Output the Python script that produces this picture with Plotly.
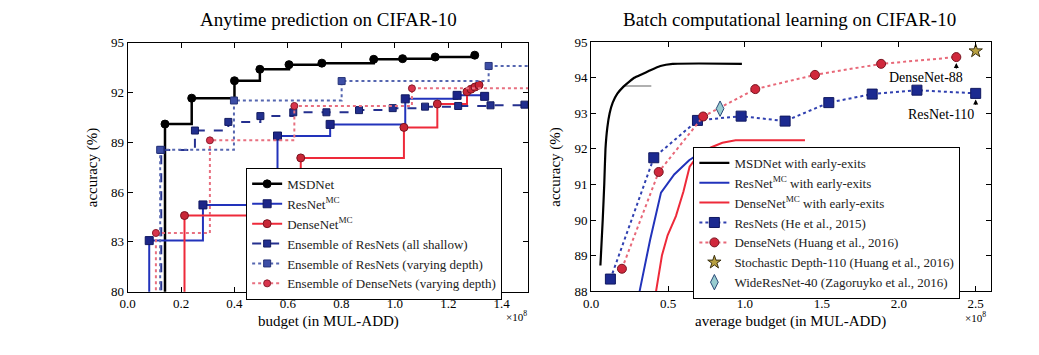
import plotly.graph_objects as go

# ---------------- Left panel data (budget in 1e8 MUL-ADD, accuracy %) ----------------
msd_x = [0.14, 0.24, 0.40, 0.495, 0.604, 0.727, 0.921, 1.029, 1.151, 1.299]
msd_y = [90.10, 91.66, 92.71, 93.40, 93.68, 93.77, 94.00, 94.04, 94.14, 94.25]

resmc_x = [0.081, 0.282, 0.561, 0.758, 1.039, 1.233, 1.336]
resmc_y = [83.08, 85.23, 89.38, 90.08, 91.62, 91.83, 91.77]

densemc_x = [0.213, 0.648, 1.034, 1.159, 1.27, 1.285, 1.30, 1.315]
densemc_y = [84.59, 88.06, 89.90, 91.31, 92.05, 92.20, 92.33, 92.45]

ens_shallow_x = [0.126, 0.252, 0.377, 0.497, 0.620, 0.744, 0.866, 0.992, 1.113, 1.237, 1.358, 1.485]
ens_shallow_y = [88.54, 89.71, 90.23, 90.58, 90.81, 90.81, 90.94, 91.06, 91.15, 91.19, 91.23, 91.27]

ens_resvar_x = [0.122, 0.398, 0.801, 1.351]
ens_resvar_y = [88.55, 91.52, 92.69, 93.60]

ens_densevar_x = [0.106, 0.308, 0.624, 1.064]
ens_densevar_y = [83.54, 89.12, 91.19, 92.25]

# ---------------- Right panel data ----------------
msd_ee_x = [0.060, 0.075, 0.085, 0.093, 0.105, 0.12, 0.14, 0.17, 0.21, 0.25, 0.28, 0.33, 0.38, 0.45, 0.53, 0.70, 0.98]
msd_ee_y = [88.72, 90.00, 91.00, 92.00, 92.60, 93.00, 93.30, 93.55, 93.75, 93.90, 94.00, 94.10, 94.20, 94.33, 94.39, 94.40, 94.39]

resmc_ee_x = [0.315, 0.383, 0.454, 0.540, 0.637, 0.700, 0.800, 0.950]
resmc_ee_y = [88.00, 89.44, 90.77, 91.28, 91.68, 91.86, 91.95, 92.00]

densemc_ee_x = [0.422, 0.460, 0.497, 0.551, 0.600, 0.640, 0.700, 0.778, 0.853, 0.939, 1.090, 1.390]
densemc_ee_y = [88.00, 89.00, 89.57, 90.11, 90.80, 91.50, 91.85, 92.04, 92.17, 92.24, 92.24, 92.24]

resnets_x = [0.125, 0.407, 0.691, 0.975, 1.261, 1.545, 1.827, 2.118, 2.500]
resnets_y = [88.34, 91.75, 92.80, 92.92, 92.78, 93.30, 93.54, 93.65, 93.56]

densenets_x = [0.200, 0.439, 0.728, 1.067, 1.455, 1.885, 2.374]
densenets_y = [88.63, 91.35, 92.91, 93.68, 94.08, 94.39, 94.58]

stoch_x = [2.50]
stoch_y = [94.75]

wide_x = [0.838]
wide_y = [93.13]

gray_ref_x = [0.219, 0.391]
gray_ref_y = [93.77, 93.77]

# tick labels / axis settings
left_xticks = [0.0, 0.2, 0.4, 0.6, 0.8, 1.0, 1.2, 1.4]
left_yticks = [80, 83, 86, 89, 92, 95]
right_xticks = [0.0, 0.5, 1.0, 1.5, 2.0, 2.5]
right_yticks = [88, 89, 90, 91, 92, 93, 94, 95]
LX_RANGE = [0, 1.5]
LY_RANGE = [80, 95]
RX_RANGE = [0, 2.6]
RY_RANGE = [88, 95]

FONT = "Liberation Serif"
W, H = 1039, 355

fig = go.Figure()


def step_series(xs, ys, name, color, dash, width, msym, msize, mcolor, mline, legend,
                drop=True, extend=False):
    if drop:
        fig.add_trace(go.Scatter(x=[xs[0], xs[0]], y=[LY_RANGE[0] - 1, ys[0]], mode="lines",
                                 line=dict(color=color, width=width, dash=dash),
                                 showlegend=False, hoverinfo="skip", xaxis="x", yaxis="y"))
    if extend:
        fig.add_trace(go.Scatter(x=[xs[-1], LX_RANGE[1] + 0.1], y=[ys[-1], ys[-1]], mode="lines",
                                 line=dict(color=color, width=width, dash=dash),
                                 showlegend=False, hoverinfo="skip", xaxis="x", yaxis="y"))
    fig.add_trace(go.Scatter(x=xs, y=ys, name=name, mode="lines+markers",
                             line=dict(color=color, width=width, dash=dash, shape="hv"),
                             marker=dict(symbol=msym, size=msize, color=mcolor,
                                         line=dict(color=mline, width=1)),
                             legend=legend, xaxis="x", yaxis="y"))


# Left panel (order so that legend matches)
step_series(msd_x, msd_y, "MSDNet", "black", "solid", 2.5, "circle", 8, "black", "black", "legend")
step_series(resmc_x, resmc_y, "ResNet<sup>MC</sup>", "#2233bb", "solid", 2, "square", 8, "#1c2588", "#101860", "legend")
step_series(densemc_x, densemc_y, "DenseNet<sup>MC</sup>", "#ee2a3a", "solid", 2, "circle", 8, "#c82636", "#7a1420", "legend")
step_series(ens_shallow_x, ens_shallow_y, "Ensemble of ResNets (all shallow)", "#25308f", "dash", 2, "square", 7, "#22308f", "#141c60", "legend", extend=True)
step_series(ens_resvar_x, ens_resvar_y, "Ensemble of ResNets (varying depth)", "#5566b0", "dot", 2, "square", 7, "#3d4ea6", "#263378", "legend", extend=True)
step_series(ens_densevar_x, ens_densevar_y, "Ensemble of DenseNets (varying depth)", "#e87080", "dot", 2, "circle", 7, "#d8344c", "#8a1c2c", "legend", extend=True)

# Right panel
fig.add_trace(go.Scatter(x=gray_ref_x, y=gray_ref_y, mode="lines", line=dict(color="#b0b0b0", width=2),
                         showlegend=False, hoverinfo="skip", xaxis="x2", yaxis="y2"))
fig.add_trace(go.Scatter(x=msd_ee_x, y=msd_ee_y, name="MSDNet with early-exits", mode="lines",
                         line=dict(color="black", width=2.2, shape="spline", smoothing=0.4),
                         legend="legend2", xaxis="x2", yaxis="y2"))
fig.add_trace(go.Scatter(x=resmc_ee_x, y=resmc_ee_y, name="ResNet<sup>MC</sup> with early-exits", mode="lines",
                         line=dict(color="#2233bb", width=2),
                         legend="legend2", xaxis="x2", yaxis="y2"))
fig.add_trace(go.Scatter(x=densemc_ee_x, y=densemc_ee_y, name="DenseNet<sup>MC</sup> with early-exits", mode="lines",
                         line=dict(color="#ee2a3a", width=2),
                         legend="legend2", xaxis="x2", yaxis="y2"))
fig.add_trace(go.Scatter(x=resnets_x, y=resnets_y, name="ResNets (He et al., 2015)", mode="lines+markers",
                         line=dict(color="#3040b0", width=2, dash="dot"),
                         marker=dict(symbol="square", size=10, color="#1c2a90", line=dict(color="#101860", width=1)),
                         legend="legend2", xaxis="x2", yaxis="y2"))
fig.add_trace(go.Scatter(x=densenets_x, y=densenets_y, name="DenseNets (Huang et al., 2016)", mode="lines+markers",
                         line=dict(color="#e86878", width=2, dash="dot"),
                         marker=dict(symbol="circle", size=9, color="#d0283c", line=dict(color="#7a1420", width=1)),
                         legend="legend2", xaxis="x2", yaxis="y2"))
fig.add_trace(go.Scatter(x=stoch_x, y=stoch_y, name="Stochastic Depth-110 (Huang et al., 2016)", mode="markers",
                         marker=dict(symbol="star", size=10, color="#b8a040", line=dict(color="#3a3010", width=1)),
                         legend="legend2", xaxis="x2", yaxis="y2"))
fig.add_trace(go.Scatter(x=wide_x, y=wide_y, name="WideResNet-40 (Zagoruyko et al., 2016)", mode="markers",
                         marker=dict(symbol="diamond-tall", size=11, color="#98ccd0", line=dict(color="#2a4a78", width=1)),
                         legend="legend2", xaxis="x2", yaxis="y2"))

axis_common = dict(showline=True, linecolor="black", linewidth=1, mirror="ticks", ticks="inside",
                   ticklen=5, tickcolor="black", showgrid=False, zeroline=False,
                   tickfont=dict(family=FONT, size=13, color="black"))

fig.update_layout(
    width=W, height=H, margin=dict(l=0, r=0, t=0, b=0),
    paper_bgcolor="white", plot_bgcolor="white",
    font=dict(family=FONT, color="black"),
    xaxis=dict(domain=[120.5 / W, 524.5 / W], range=LX_RANGE, tickvals=left_xticks,
               ticktext=[f"{v:.1f}" for v in left_xticks], anchor="y", **axis_common),
    yaxis=dict(domain=[1 - 297.3 / H, 1 - 37.3 / H], range=LY_RANGE, tickvals=left_yticks, anchor="x",
               **axis_common),
    xaxis2=dict(domain=[587.7 / W, 990.7 / W], range=RX_RANGE, tickvals=right_xticks,
                ticktext=[f"{v:.1f}" for v in right_xticks], anchor="y2", **axis_common),
    yaxis2=dict(domain=[1 - 296.7 / H, 1 - 36.7 / H], range=RY_RANGE, tickvals=right_yticks, anchor="x2",
                **axis_common),
    legend=dict(x=240 / W, y=1 - 168 / H, xanchor="left", yanchor="top", bgcolor="white",
                bordercolor="black", borderwidth=1, font=dict(family=FONT, size=13, color="#222"),
                tracegroupgap=0, itemwidth=30),
    legend2=dict(x=690.7 / W, y=1 - 146 / H, xanchor="left", yanchor="top", bgcolor="white",
                 bordercolor="black", borderwidth=1, font=dict(family=FONT, size=13, color="#222"),
                 tracegroupgap=0, itemwidth=30),
    showlegend=True,
)

ann = []
# titles
ann.append(dict(text="Anytime prediction on CIFAR-10", x=323 / W, y=1 - 13 / H, xref="paper", yref="paper",
                showarrow=False, font=dict(family=FONT, size=19), xanchor="center", yanchor="middle"))
ann.append(dict(text="Batch computational learning on CIFAR-10", x=788 / W, y=1 - 13 / H, xref="paper", yref="paper",
                showarrow=False, font=dict(family=FONT, size=19), xanchor="center", yanchor="middle"))
# axis titles
ann.append(dict(text="budget (in MUL-ADD)", x=323 / W, y=1 - 328 / H, xref="paper", yref="paper",
                showarrow=False, font=dict(family=FONT, size=15), xanchor="center", yanchor="middle"))
ann.append(dict(text="average budget (in MUL-ADD)", x=789 / W, y=1 - 328 / H, xref="paper", yref="paper",
                showarrow=False, font=dict(family=FONT, size=15), xanchor="center", yanchor="middle"))
ann.append(dict(text="accuracy (%)", x=86 / W, y=1 - 167 / H, xref="paper", yref="paper", textangle=-90,
                showarrow=False, font=dict(family=FONT, size=15), xanchor="center", yanchor="middle"))
ann.append(dict(text="accuracy (%)", x=552 / W, y=1 - 167 / H, xref="paper", yref="paper", textangle=-90,
                showarrow=False, font=dict(family=FONT, size=15), xanchor="center", yanchor="middle"))
# exponent labels
ann.append(dict(text="×10<sup>8</sup>", x=512 / W, y=1 - 323 / H, xref="paper", yref="paper",
                showarrow=False, font=dict(family=FONT, size=11), xanchor="center", yanchor="middle"))
ann.append(dict(text="×10<sup>8</sup>", x=975 / W, y=1 - 324 / H, xref="paper", yref="paper",
                showarrow=False, font=dict(family=FONT, size=11), xanchor="center", yanchor="middle"))
# point labels
ann.append(dict(text="DenseNet-88", x=2.177, y=94.01, xref="x2", yref="y2", showarrow=False,
                font=dict(family=FONT, size=14), xanchor="center", yanchor="middle"))
ann.append(dict(text="ResNet-110", x=2.274, y=92.98, xref="x2", yref="y2", showarrow=False,
                font=dict(family=FONT, size=14), xanchor="center", yanchor="middle"))
ann.append(dict(text="", x=densenets_x[-1], y=densenets_y[-1], xref="x2", yref="y2", showarrow=True,
                ax=0, ay=13, standoff=6, arrowhead=2, arrowsize=1, arrowwidth=1, arrowcolor="black"))
ann.append(dict(text="", x=resnets_x[-1], y=resnets_y[-1], xref="x2", yref="y2", showarrow=True,
                ax=0, ay=13, standoff=6, arrowhead=2, arrowsize=1, arrowwidth=1, arrowcolor="black"))
fig.update_layout(annotations=ann)

fig.write_html("out.html", config={"displayModeBar": False},
               post_script="document.body.style.margin='0';document.body.style.overflow='hidden';")
